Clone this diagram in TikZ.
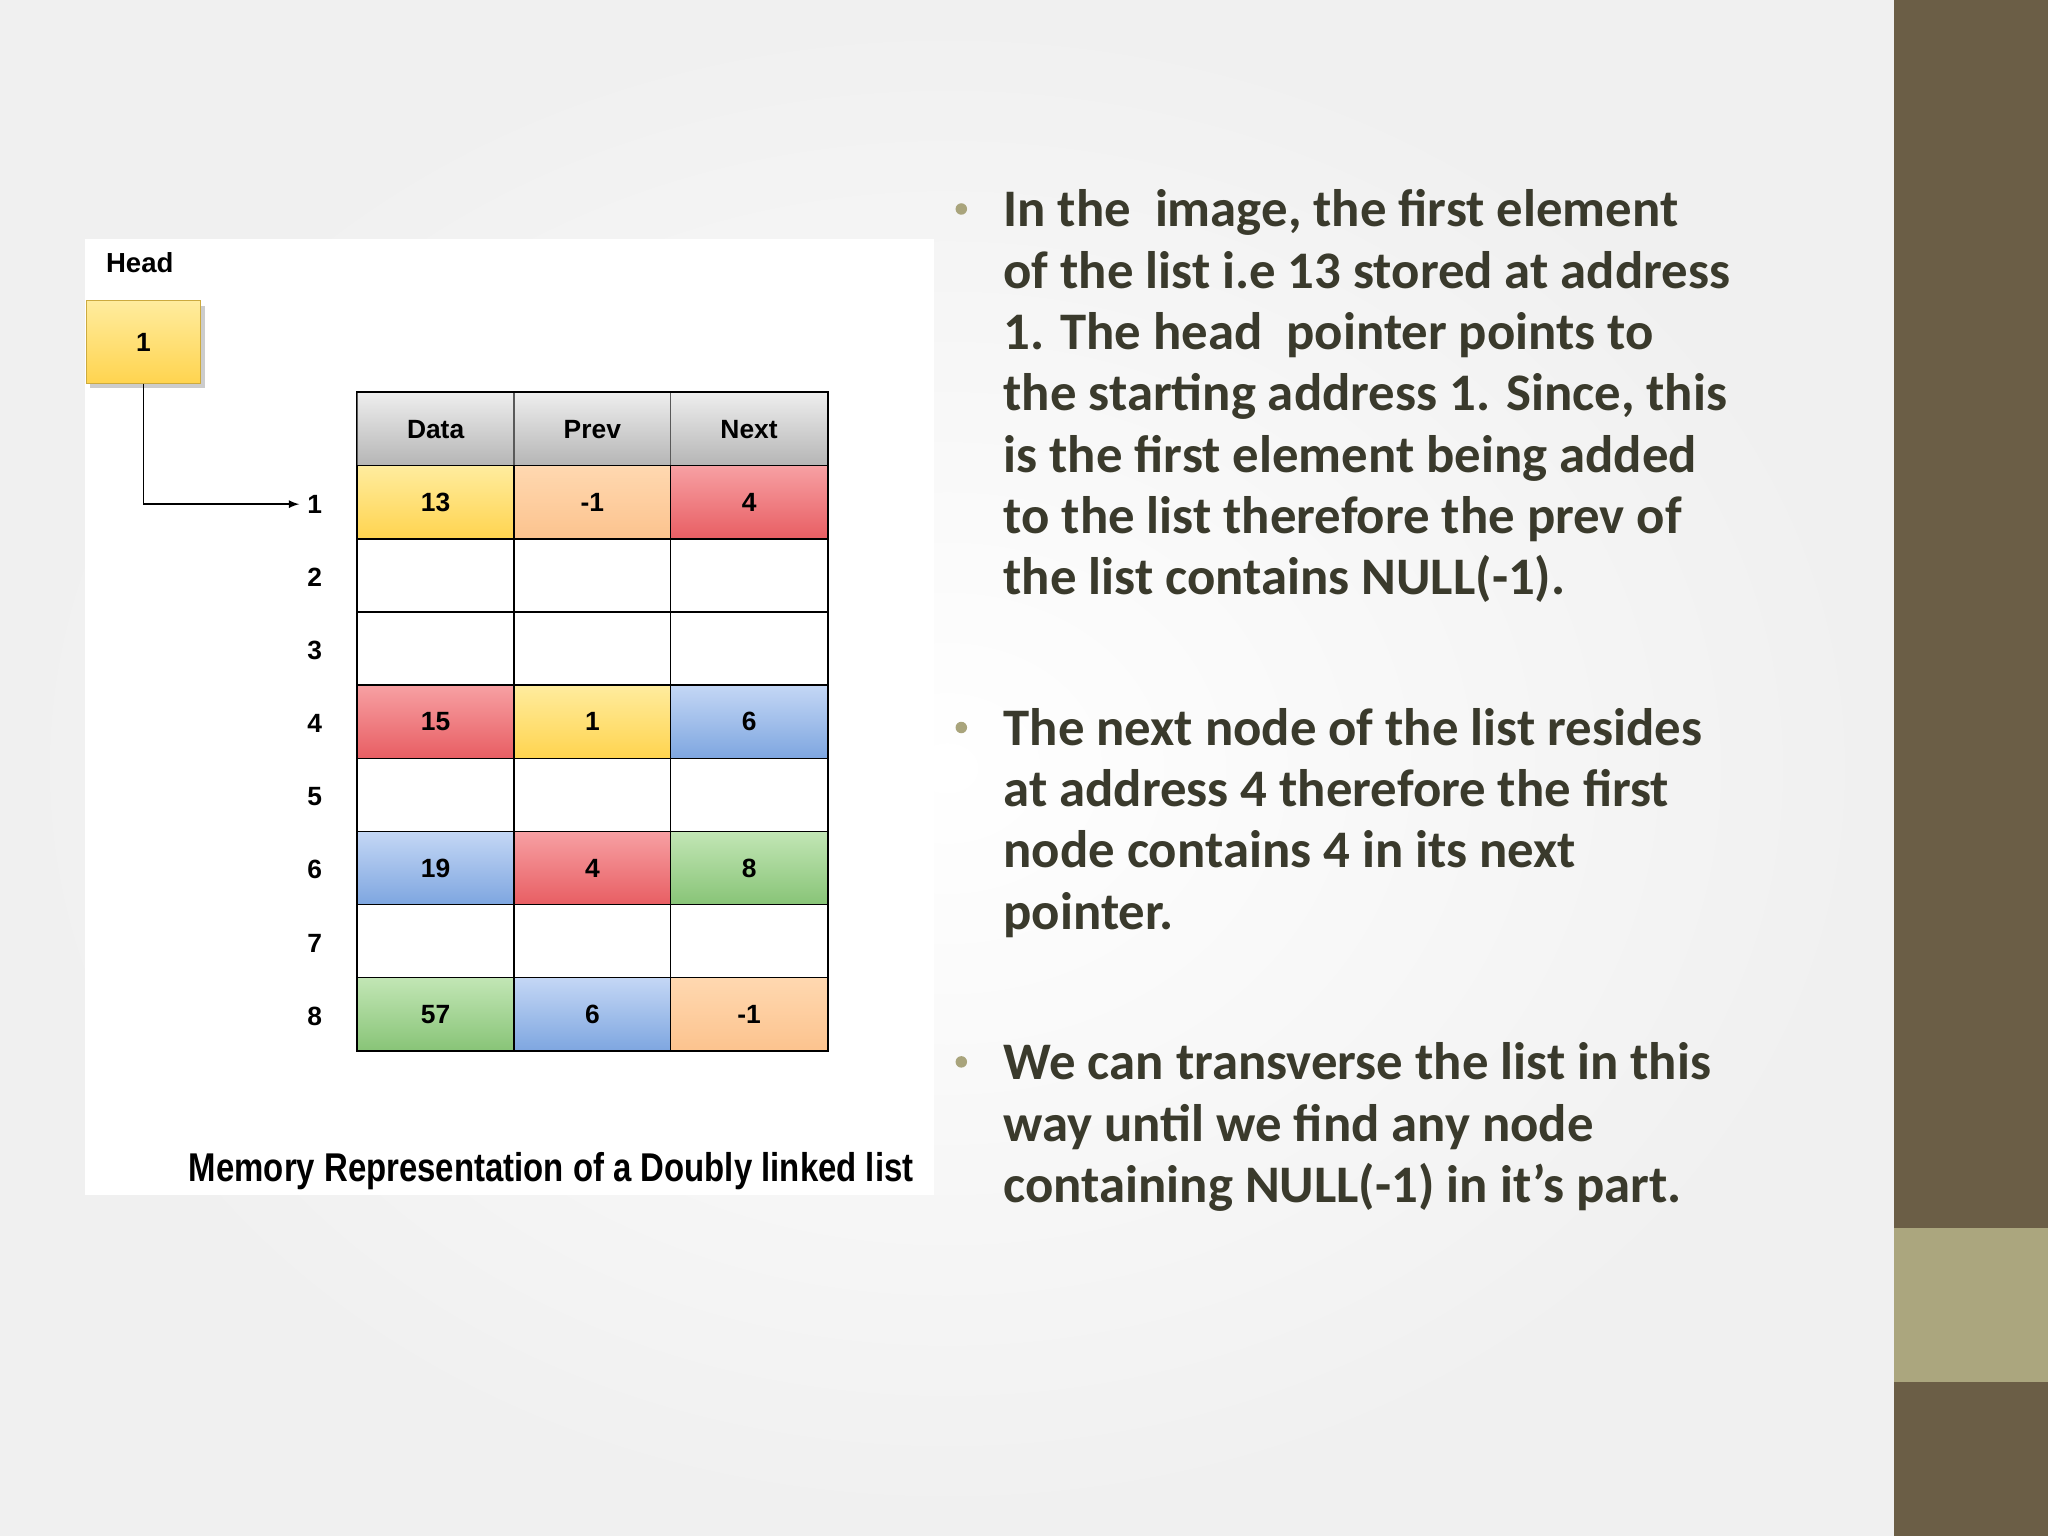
\documentclass[tikz,border=0pt]{standalone}
\usepackage{fontspec}
\setmainfont{Carlito}
\newfontfamily\arialf{Liberation Sans}
\begin{document}
\begin{tikzpicture}[x=0.02cm,y=-0.02cm,
  cell/.style={draw=black,line width=0.6pt,minimum width=2.4cm,minimum height=1.12cm,inner sep=0pt,font=\arialf\bfseries\fontsize{11.5}{12}\selectfont,anchor=north west},
  lbl/.style={font=\arialf\bfseries\fontsize{11.5}{12}\selectfont},
  bul/.style={font=\bfseries\fontsize{23}{26.7}\selectfont,text=txtc,align=left,anchor=north west,inner sep=0pt},
  dot/.style={circle,fill=dotc,inner sep=0pt,minimum size=5pt}]
\definecolor{txtc}{HTML}{3A3A2C}
\definecolor{dotc}{HTML}{A9A47C}
\definecolor{bard}{HTML}{6B5E46}
\definecolor{barl}{HTML}{ABA67E}
\definecolor{yT}{HTML}{FFEC9E}\definecolor{yB}{HTML}{FFD44F}
\definecolor{oT}{HTML}{FFD8B0}\definecolor{oB}{HTML}{FCC38E}
\definecolor{rT}{HTML}{F7A0A3}\definecolor{rB}{HTML}{E85E63}
\definecolor{bT}{HTML}{C4D7F5}\definecolor{bB}{HTML}{7EA6E0}
\definecolor{gT}{HTML}{C2E6B5}\definecolor{gB}{HTML}{88C477}
\definecolor{hT}{HTML}{EEEEEE}\definecolor{hB}{HTML}{B5B5B5}
\definecolor{wT}{HTML}{FFFFFF}\definecolor{wB}{HTML}{FFFFFF}
\useasboundingbox (0,0) rectangle (1568,1176);
\shade[inner color=white,outer color=gray!12] (0,0) rectangle (1450,1176);
\fill[bard] (1450,0) rectangle (1568,1176);
\fill[barl] (1450,940) rectangle (1568,1058);
\fill[white] (65,183) rectangle (715,915);
\node[lbl,font=\arialf\bfseries\fontsize{12}{13}\selectfont] (headlbl) at (107,201) {Head};
\fill[gray!40] (69,234) rectangle (157,297);
\node[draw=yB!80!black,top color=yT,bottom color=yB,minimum width=1.74cm,minimum height=1.26cm,anchor=north west,inner sep=0pt,lbl] (head) at (66,230) {1};
% header
\foreach \t [count=\i from 0] in {Data,Prev,Next}
  \node[cell,draw=gray!70!black,top color=hT,bottom color=hB] (h\i) at (273+120*\i,300) {\t};
% rows
\foreach \r/\a/\ca/\b/\cb/\c/\cc in {1/13/y/-1/o/4/r,2//w//w//w,3//w//w//w,4/15/r/1/y/6/b,5//w//w//w,6/19/b/4/r/8/g,7//w//w//w,8/57/g/6/b/-1/o}{
  \node[lbl] (l\r) at (241,330+56*\r) {\r};
  \foreach \v/\col [count=\j from 0] in {\a/\ca,\b/\cb,\c/\cc}{
      \node[cell,draw=black,top color=\col T,bottom color=\col B] (c\r-\j) at (273+120*\j,300+56*\r) {\v};
  }
}
\draw[black,line width=0.8pt] (h0.north west) rectangle (c8-2.south east);
\draw[-latex,line width=0.6pt] (head.south) |- (l1.west);
\node[font=\arialf\bfseries\fontsize{17.5}{20}\selectfont,xscale=0.82] (cap) at (422,897) {Memory Representation of a Doubly linked list};
% bullets
\node[dot] (d1) at (736,160) {};
\node[bul] (t1) at (768,145) {In the\ \ image, the first element\\of the list i.e 13 stored at address\\1. The head\ \ pointer points to\\the starting address 1. Since, this\\is the first element being added\\to the list therefore the prev of\\the list contains NULL(-1).};
\node[dot] (d2) at (736,557) {};
\node[bul] (t2) at (768,542) {The next node of the list resides\\at address 4 therefore the first\\node contains 4 in its next\\pointer.};
\node[dot] (d3) at (736,813) {};
\node[bul] (t3) at (768,798) {We can transverse the list in this\\way until we find any node\\containing NULL(-1) in it’s part.};
\end{tikzpicture}
\end{document}
